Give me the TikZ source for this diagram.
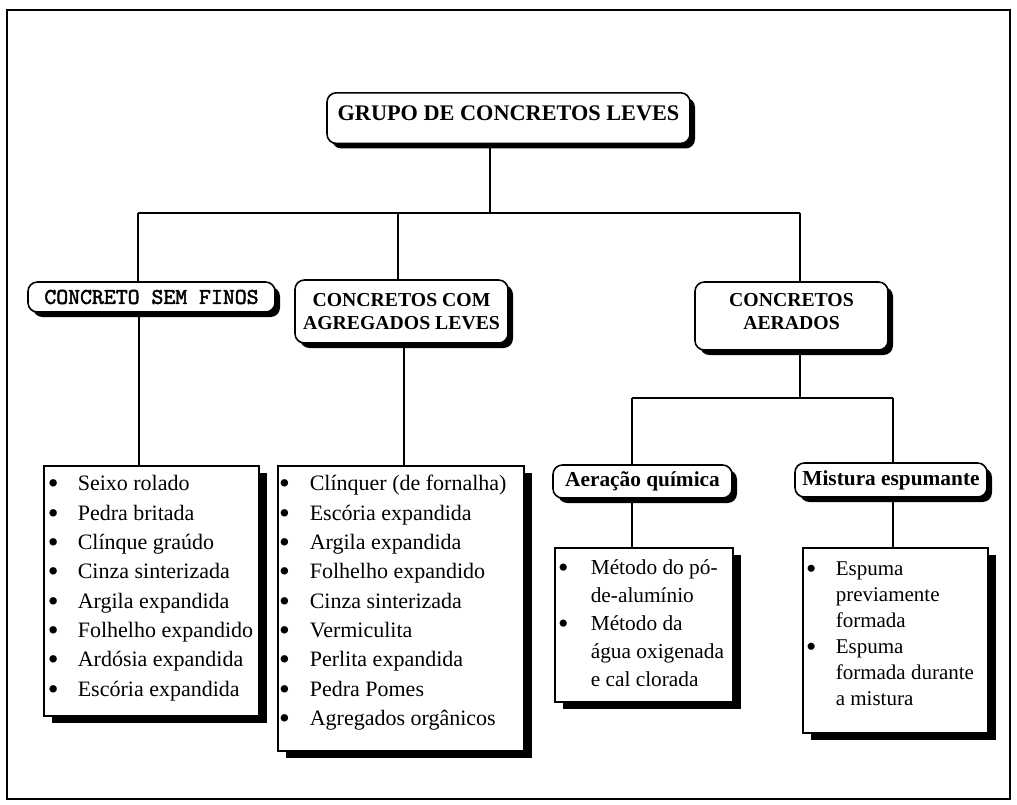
\documentclass[tikz,border=0pt]{standalone}
\usepackage{fontspec}
\setmainfont{Liberation Serif}
\newfontfamily\courb{lmmono10-regular.otf}[FakeBold=2]
\usetikzlibrary{shadows}
\newlength\bulind
\newlength\txtind
\newcommand\bul{\raisebox{-0.13em}{\scalebox{1.4}{\textbullet}}}
\newcommand\itm[1]{\hspace*{\bulind}\makebox[\dimexpr\txtind-\bulind\relax][l]{\bul}#1\par}
\newcommand\cnt[1]{\hspace*{\txtind}#1\par}
\begin{document}
\begin{tikzpicture}[x=0.75pt,y=-0.75pt,line width=1.2pt,
  head/.style={draw,fill=white,rounded corners=7pt,inner sep=0pt,align=center,
    drop shadow={shadow xshift=3.75pt,shadow yshift=-3.75pt,opacity=1,fill=black}},
  listbox/.style={draw,fill=white,inner sep=0pt,anchor=north west,
    drop shadow={shadow xshift=6.5pt,shadow yshift=-5.5pt,opacity=1,fill=black}},
  conn/.style={line width=1.2pt}]
\useasboundingbox (0,0) rectangle (1017,804);
\draw[line width=2pt] (7,10) rectangle (1010,799);

% headings
\node[head,minimum width=272.25pt,text height=21pt,text depth=17pt,
  font=\fontsize{16.7}{19}\selectfont\bfseries,anchor=north] (top) at (508.5,92)
  {GRUPO DE CONCRETOS LEVES};
\node[head,minimum width=185.25pt,minimum height=22.5pt,
  font=\fontsize{17}{19}\courb] (b1) at (151.5,297) {CONCRETO SEM FINOS};
\node[head,minimum width=159.75pt,minimum height=47.25pt,
  font=\fontsize{14.8}{17.25}\selectfont\bfseries] (b2) at (401.5,311.5)
  {CONCRETOS COM\\AGREGADOS LEVES};
\node[head,minimum width=144.75pt,minimum height=51pt,text depth=7pt,
  font=\fontsize{14.8}{17.25}\selectfont\bfseries] (b3) at (791.5,316)
  {CONCRETOS\\AERADOS};
\node[head,minimum width=134.25pt,minimum height=24.75pt,
  font=\fontsize{16}{19}\selectfont\bfseries] (a1) at (642.5,481.5) {Aeração química};
\node[head,minimum width=144pt,minimum height=25.5pt,
  font=\fontsize{16}{19}\selectfont\bfseries] (a2) at (891,480) {Mistura espumante};

% lists
\node[listbox] (l1) at (43,465) {\parbox[c][187.5pt][t]{161.25pt}{%
  \fontsize{16.5}{22}\selectfont\raggedright
  \setlength\bulind{3pt}\setlength\txtind{25.5pt}%
  \rule{0pt}{18.75pt}%
  \itm{Seixo rolado}
  \itm{Pedra britada}
  \itm{Clínque graúdo}
  \itm{Cinza sinterizada}
  \itm{Argila expandida}
  \itm{Folhelho expandido}
  \itm{Ardósia expandida}
  \itm{Escória expandida}}};
\node[listbox] (l2) at (277,465) {\parbox[c][213.75pt][t]{184.5pt}{%
  \fontsize{16.5}{22}\selectfont\raggedright
  \setlength\bulind{1pt}\setlength\txtind{24pt}%
  \rule{0pt}{18.75pt}%
  \itm{Clínquer (de fornalha)}
  \itm{Escória expandida}
  \itm{Argila expandida}
  \itm{Folhelho expandido}
  \itm{Cinza sinterizada}
  \itm{Vermiculita}
  \itm{Perlita expandida}
  \itm{Pedra Pomes}
  \itm{Agregados orgânicos}}};
\node[listbox] (l3) at (554,547) {\parbox[c][115.5pt][t]{133.5pt}{%
  \fontsize{16}{21}\selectfont\raggedright
  \setlength\bulind{2.5pt}\setlength\txtind{27pt}%
  \rule{0pt}{20.25pt}%
  \itm{Método do pó-}
  \cnt{de-alumínio}
  \itm{Método da}
  \cnt{água oxigenada}
  \cnt{e cal clorada}}};
\node[listbox] (l4) at (802,547) {\parbox[c][138.75pt][t]{138.75pt}{%
  \fontsize{15.75}{19.5}\selectfont\raggedright
  \setlength\bulind{2.5pt}\setlength\txtind{24.75pt}%
  \rule{0pt}{21pt}%
  \itm{Espuma}
  \cnt{previamente}
  \cnt{formada}
  \itm{Espuma}
  \cnt{formada durante}
  \cnt{a mistura}}};

% connectors
\coordinate (hT) at (490,213);
\coordinate (hL) at (138,213);
\coordinate (hM) at (398,213);
\coordinate (hR) at (800,213);
\coordinate (vL) at (139,0);
\coordinate (vM) at (404,0);
\coordinate (aL) at (632,398);
\coordinate (aR) at (893,398);
\draw[conn] (top.south -| hT) -- (hT);
\draw[conn] (hL) -- (hR);
\draw[conn] (hL) -- (b1.north -| hL);
\draw[conn] (hM) -- (b2.north -| hM);
\draw[conn] (hR) -- (b3.north -| hR);
\draw[conn] (b1.south -| vL) -- (l1.north -| vL);
\draw[conn] (b2.south -| vM) -- (l2.north -| vM);
\draw[conn] (b3.south -| hR) -- (aL -| hR);
\draw[conn] (aL) -- (aR);
\draw[conn] (aL) -- (a1.north -| aL);
\draw[conn] (aR) -- (a2.north -| aR);
\draw[conn] (a1.south -| aL) -- (l3.north -| aL);
\draw[conn] (a2.south -| aR) -- (l4.north -| aR);
\end{tikzpicture}
\end{document}
